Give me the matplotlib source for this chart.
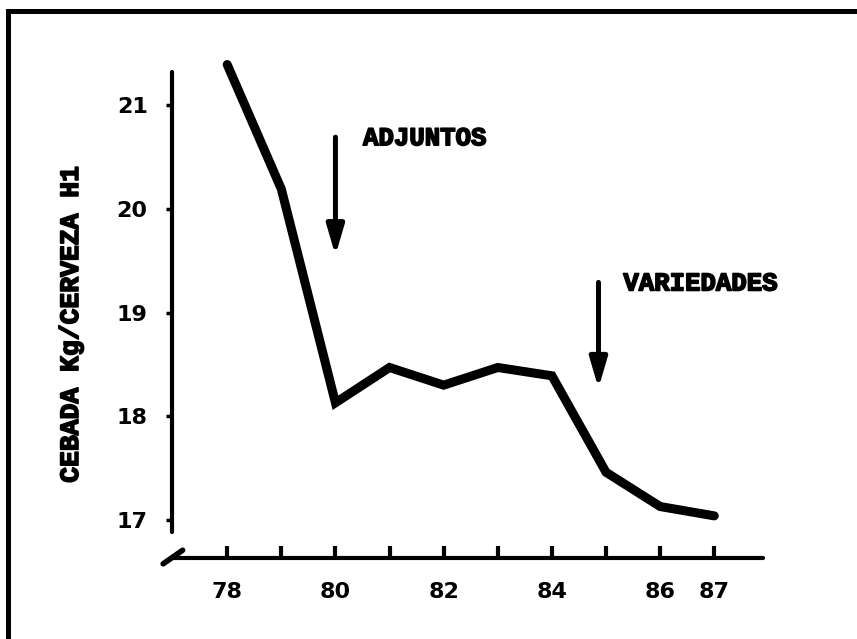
import matplotlib
matplotlib.use("Agg")
import matplotlib.pyplot as plt
from matplotlib.lines import Line2D
import matplotlib.patheffects as pe

years = [78, 79, 80, 81, 82, 83, 84, 85, 86, 87]
cebada = [21.39, 20.19, 18.13, 18.47, 18.30, 18.47, 18.39, 17.46, 17.13, 17.04]
xtick_labels = ["78", "", "80", "", "82", "", "84", "", "86", "87"]
yticks = [17, 18, 19, 20, 21]
ylabel = "CEBADA Kg/CERVEZA H1"
annotations = [("ADJUNTOS", 80.0, 20.69, 19.55, 80.51, 20.68),
               ("VARIEDADES", 84.86, 19.29, 18.27, 85.32, 19.28)]

W, H = 857, 639
fig = plt.figure(figsize=(W / 100, H / 100), dpi=100)

# axes placement in pixels
left_px, right_px, top_px, bottom_px = 172, 763, 72, 558
ax = fig.add_axes([left_px / W, (H - bottom_px) / H,
                   (right_px - left_px) / W, (bottom_px - top_px) / H])

ax.plot(years, cebada, color="black", lw=6.5, solid_capstyle="round",
        solid_joinstyle="miter", clip_on=False)

ax.set_xlim(76.98, 87.9)
ax.set_ylim(16.634, 21.318)

for s in ["top", "right"]:
    ax.spines[s].set_visible(False)
ax.spines["left"].set_linewidth(3)
ax.spines["bottom"].set_linewidth(3)
ax.spines["left"].set_bounds(16.88, 21.318)
ax.spines["left"].set_capstyle("round")
ax.spines["bottom"].set_capstyle("round")

ax.set_xticks(years)
ax.set_xticklabels(xtick_labels)
ax.set_yticks(yticks)
ax.set_yticklabels([str(v) for v in yticks])
ax.tick_params(axis="x", direction="in", length=9, width=3, pad=17)
ax.tick_params(axis="y", direction="out", length=4.5, width=2.5, pad=13)
for lab in ax.get_xticklabels() + ax.get_yticklabels():
    lab.set_fontfamily("DejaVu Sans")
    lab.set_fontweight("bold")
    lab.set_fontsize(16)

# axis break mark
ax.plot([-0.015, 0.018], [-0.012, 0.016], transform=ax.transAxes,
        color="black", lw=4, solid_capstyle="round", clip_on=False)

thick = [pe.withStroke(linewidth=1.2, foreground="black")]

# arrows and annotations
for text, ax_x, y0, y1, tx, ty in annotations:
    ax.annotate("", xy=(ax_x, y1), xytext=(ax_x, y0),
                arrowprops=dict(arrowstyle="-|>,head_length=0.75,head_width=0.22",
                                lw=3.6, color="black", mutation_scale=24,
                                shrinkA=0, shrinkB=0, capstyle="round"))
    ax.text(tx, ty, text, family="Liberation Mono", weight="bold",
            fontsize=18.5, va="center", ha="left", path_effects=thick)

# y label
fig.text(71 / W, (H - 324) / H, ylabel, rotation=90, family="Liberation Mono",
         weight="bold", fontsize=19, ha="center", va="center",
         path_effects=thick)

# outer frame (left and top edges)
fig.add_artist(Line2D([8 / W, 8 / W], [0, (H - 11) / H], color="black", lw=3.6,
                      transform=fig.transFigure))
fig.add_artist(Line2D([8 / W, 1], [(H - 11) / H, (H - 11) / H], color="black",
                      lw=3.6, transform=fig.transFigure))

fig.savefig("out.png", dpi=100)
